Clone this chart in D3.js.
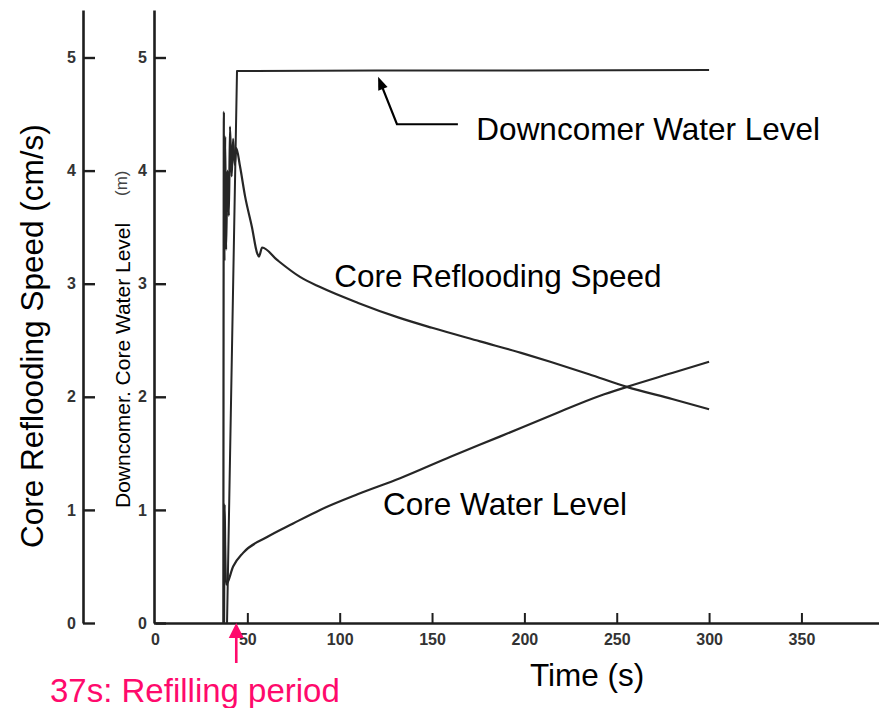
<!DOCTYPE html>
<html>
<head>
<meta charset="utf-8">
<script src="https://cdn.jsdelivr.net/npm/d3@7"></script>
<style>
  html, body { margin: 0; padding: 0; background: #fff; }
  svg { display: block; font-family: "Liberation Sans", Arial, sans-serif; }
</style>
</head>
<body>
<svg id="chart" width="879" height="708"></svg>
<script>
/**** DATA *****/
// core reflooding speed (cm/s)
const speedTime = [37, 37.3, 37.6, 38.0, 38.5, 39.2, 40.0, 40.6, 41.5, 42.3, 43.2, 44.0, 46.0, 48.8, 52.5, 55.3, 56.3, 58.0, 66.1, 78.5, 89.4, 110, 132, 150, 176, 200, 214, 235, 255, 280, 300];
const speedValue = [0, 4.52, 3.2, 4.3, 3.3, 4.0, 3.6, 4.39, 3.95, 4.28, 4.05, 4.2, 4.04, 3.77, 3.50, 3.27, 3.24, 3.32, 3.21, 3.06, 2.97, 2.83, 2.70, 2.61, 2.49, 2.38, 2.31, 2.20, 2.09, 1.98, 1.89];

// core water level (m)
const coreTime = [37.4, 37.7, 38.0, 38.5, 42.3, 47.7, 60.7, 74.8, 89.4, 110, 132.7, 160, 187, 215, 241, 256, 280, 300];
const coreValue = [0, 1.05, 0.68, 0.34, 0.50, 0.62, 0.76, 0.88, 1.00, 1.14, 1.28, 1.47, 1.65, 1.84, 2.01, 2.09, 2.21, 2.31];

// downcomer water level (m)
const downTime = [39, 44.4, 120, 200, 300];
const downValue = [0, 4.88, 4.885, 4.885, 4.89];

const xTicks = [0, 50, 100, 150, 200, 250, 300, 350];
const yTicks = [0, 1, 2, 3, 4, 5];

/**** CHART *****/
const svg = d3.select('#chart');
const ink = '#1e1e1e';
const pink = '#ff0a6c';

const x = d3.scaleLinear().domain([0, 392]).range([155, 879]);
const y = d3.scaleLinear().domain([0, 5.42]).range([623, 10]);

// two vertical axes, ticks pointing inward, labels on the left
[83, 154].forEach(ax => {
	const g = svg.append('g').attr('transform', `translate(${ax},0)`)
		.call(d3.axisLeft(y).tickValues(yTicks).tickFormat(d3.format('d'))
			.tickSizeInner(-12).tickSizeOuter(0).tickPadding(7));
	g.select('.domain').attr('stroke', ink).attr('stroke-width', 2.6);
	g.selectAll('.tick line').attr('stroke', ink).attr('stroke-width', 2.4);
	g.selectAll('.tick text').attr('font-size', 16).attr('font-weight', 'bold').attr('fill', '#333')
		.attr('font-family', '"Liberation Sans", Arial, sans-serif');
});

const gx = svg.append('g').attr('transform', `translate(0,${y(0)})`)
	.call(d3.axisBottom(x).tickValues(xTicks).tickFormat(d3.format('d'))
		.tickSizeInner(-10).tickSizeOuter(0).tickPadding(11));
gx.select('.domain').attr('stroke', ink).attr('stroke-width', 2.6);
gx.selectAll('.tick line').attr('stroke', ink).attr('stroke-width', 2)
	.attr('opacity', d => d === 0 ? 0 : 1);
gx.selectAll('.tick text').attr('font-size', 16).attr('font-weight', 'bold').attr('fill', '#333')
	.attr('font-family', '"Liberation Sans", Arial, sans-serif');

// curves
const series = [
	{ t: downTime, v: downValue, w: 2.0, curve: d3.curveLinear },
	{ t: speedTime, v: speedValue, w: 2.2, curve: d3.curveMonotoneX },
	{ t: coreTime, v: coreValue, w: 2.2, curve: d3.curveMonotoneX }
];
svg.append('g').selectAll('path').data(series).join('path')
	.attr('d', s => d3.line().curve(s.curve).x(d => x(d[0])).y(d => y(d[1]))(s.t.map((t, i) => [t, s.v[i]])))
	.attr('fill', 'none').attr('stroke', '#262626')
	.attr('stroke-width', s => s.w).attr('stroke-linejoin', 'round');

// text labels
const big = 31.5;
svg.append('text').text('Downcomer Water Level')
	.attr('x', x(174)).attr('y', y(4.27)).attr('font-size', big).attr('fill', '#000');
svg.append('text').text('Core Reflooding Speed')
	.attr('x', x(97)).attr('y', y(2.97)).attr('font-size', big).attr('fill', '#000');
svg.append('text').text('Core Water Level')
	.attr('x', x(123.5)).attr('y', y(0.955)).attr('font-size', big).attr('fill', '#000');
svg.append('text').text('Time (s)')
	.attr('x', x(203)).attr('y', 686).attr('font-size', big).attr('fill', '#000');

svg.append('text').text('Core Reflooding Speed (cm/s)')
	.attr('transform', 'translate(43,548) rotate(-90)').attr('font-size', big).attr('fill', '#000');
svg.append('text').text('Downcomer. Core Water Level')
	.attr('transform', 'translate(130,508) rotate(-90)').attr('font-size', 21).attr('fill', '#000');
svg.append('text').text('(m)')
	.attr('transform', 'translate(127,196) rotate(-90)').attr('font-size', 17).attr('fill', '#444');

// downcomer arrow
const arrowPts = [[164, 4.41], [131, 4.41], [120.8, 4.83]];
const tip = arrowPts[2], prev = arrowPts[1];
const ang = Math.atan2(y(tip[1]) - y(prev[1]), x(tip[0]) - x(prev[0]));
svg.append('path')
	.attr('d', d3.line()(arrowPts.slice(0, 2).map(p => [x(p[0]), y(p[1])]).concat([[x(tip[0]) - 9 * Math.cos(ang), y(tip[1]) - 9 * Math.sin(ang)]])))
	.attr('fill', 'none').attr('stroke', '#000').attr('stroke-width', 2.2);
const head = (tx, ty, a, len, half) => {
	const bx = tx - len * Math.cos(a), by = ty - len * Math.sin(a);
	return `M${tx},${ty}L${bx - half * Math.sin(a)},${by + half * Math.cos(a)}L${bx + half * Math.sin(a)},${by - half * Math.cos(a)}Z`;
};
svg.append('path').attr('d', head(x(tip[0]), y(tip[1]), ang, 13, 5)).attr('fill', '#000');

// refilling period marker (37 s)
const refillT = 44;
svg.append('line')
	.attr('x1', x(refillT)).attr('x2', x(refillT)).attr('y1', 663).attr('y2', y(0) + 12)
	.attr('stroke', pink).attr('stroke-width', 2.6);
svg.append('path').attr('d', head(x(refillT), y(0), -Math.PI / 2, 15, 7.5)).attr('fill', pink);
svg.append('text').text('37s: Refilling period')
	.attr('x', 50).attr('y', 702).attr('font-size', 33).attr('fill', pink);
</script>
</body>
</html>
